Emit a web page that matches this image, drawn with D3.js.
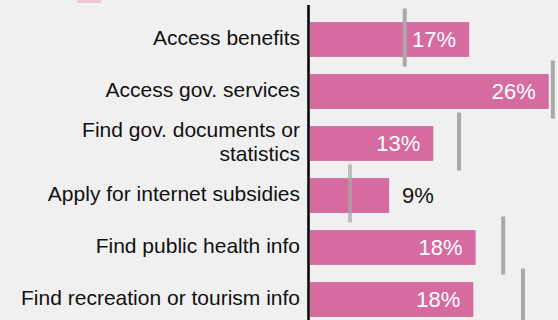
<!DOCTYPE html>
<html>
<head>
<meta charset="utf-8">
<script src="https://cdn.jsdelivr.net/npm/d3@7"></script>
<style>
  html, body { margin: 0; padding: 0; background: #f0f0f0; }
  svg { display: block; }
</style>
</head>
<body>
<script>
const categories = [
  ["Access benefits"],
  ["Access gov. services"],
  ["Find gov. documents or", "statistics"],
  ["Apply for internet subsidies"],
  ["Find public health info"],
  ["Find recreation or tourism info"]
];
const barValues = [17.3, 25.95, 13.4, 8.6, 18.0, 17.75];
const barLabels = ["17%", "26%", "13%", "9%", "18%", "18%"];
const markerValues = [10.3, 26.4, 16.2, 4.35, 21.0, 23.15];

const W = 558, H = 320;
const svg = d3.select("body").append("svg").attr("width", W).attr("height", H);
svg.append("rect").attr("width", W).attr("height", H).attr("fill", "#f0f0f0");

const x = d3.scaleLinear().domain([0, 10]).range([310, 402]);
const y = d3.scaleBand().domain(d3.range(categories.length))
  .range([13.5, 325.5]).paddingInner(0.33).paddingOuter(0.165);

const pink = "#d66b9f";

// partial legend swatch at the top (cut off)
svg.append("rect").attr("x", 77).attr("y", -10).attr("width", 24).attr("height", 13)
  .attr("fill", pink).attr("opacity", 0.3);

// bars
svg.selectAll("rect.bar").data(barValues).join("rect")
  .attr("class", "bar")
  .attr("x", x(0))
  .attr("y", (d, i) => y(i))
  .attr("width", d => x(d) - x(0))
  .attr("height", y.bandwidth())
  .attr("fill", pink);

// comparison markers
svg.selectAll("line.marker").data(markerValues).join("line")
  .attr("class", "marker")
  .attr("x1", d => x(d)).attr("x2", d => x(d))
  .attr("y1", (d, i) => y(i) + y.bandwidth() / 2 - 31)
  .attr("y2", (d, i) => y(i) + y.bandwidth() / 2 + 27)
  .attr("stroke", "#a9a9a9")
  .attr("stroke-width", 4)
  .attr("opacity", (d, i) => i === 3 ? 0.7 : 1);

// axis line
const axis = d3.axisLeft(y).tickSize(0).tickFormat("");
const ag = svg.append("g").attr("transform", `translate(${x(0) - 1.5},0)`).call(axis);
ag.select(".domain").attr("d", `M0,5V${H}`).attr("stroke", "#000").attr("stroke-width", 2.5);

// category labels
const lab = svg.selectAll("text.cat").data(categories).join("text")
  .attr("class", "cat")
  .attr("text-anchor", "end")
  .attr("font-family", "Liberation Sans, Arial, Helvetica, sans-serif")
  .attr("font-size", 21)
  .attr("fill", "#111");
lab.each(function (lines, i) {
  const t = d3.select(this);
  const cy = y(i) + y.bandwidth() / 2;
  const lh = 24;
  lines.forEach((s, k) => {
    t.append("tspan")
      .attr("x", 300)
      .attr("y", cy - 2 + (k - (lines.length - 1) / 2) * lh)
      .attr("dy", "0.35em")
      .text(s);
  });
});

// value labels
const ctx = document.createElement("canvas").getContext("2d");
ctx.font = "22px 'Liberation Sans', Arial, sans-serif";
svg.selectAll("text.val").data(barValues).join("text")
  .attr("class", "val")
  .attr("font-family", "Liberation Sans, Arial, Helvetica, sans-serif")
  .attr("font-size", 22)
  .attr("y", (d, i) => y(i) + y.bandwidth() / 2)
  .attr("dy", "0.36em")
  .each(function (d, i) {
    const w = ctx.measureText(barLabels[i]).width;
    const inside = x(d) - x(0) > w + 55;
    d3.select(this)
      .attr("x", inside ? x(d) - 13 : x(d) + 13)
      .attr("text-anchor", inside ? "end" : "start")
      .attr("fill", inside ? "#fff" : "#111")
      .text(barLabels[i]);
  });
</script>
</body>
</html>
